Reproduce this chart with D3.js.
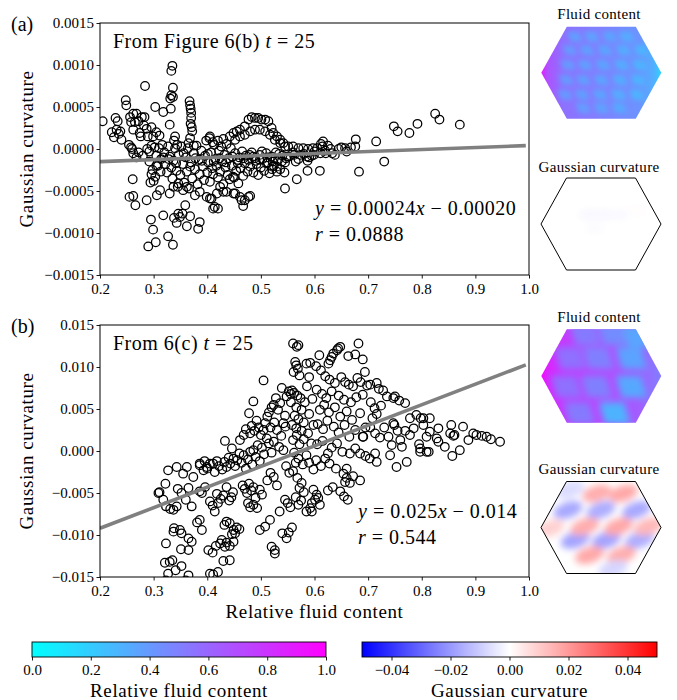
<!DOCTYPE html>
<html><head><meta charset="utf-8">
<script src="https://cdn.jsdelivr.net/npm/d3@7"></script>
<style>
body{margin:0;background:#fff}
text{font-family:"Liberation Serif","DejaVu Serif",serif;fill:#000}
</style>
</head><body>
<svg id="c" width="677" height="700"></svg>
<script>
// ---------------- DATA ----------------
const xTicks = [0.2,0.3,0.4,0.5,0.6,0.7,0.8,0.9,1.0];
const yTicksA = [-0.0015,-0.0010,-0.0005,0,0.0005,0.0010,0.0015];
const yTicksB = [-0.015,-0.010,-0.005,0,0.005,0.010,0.015];
const cbFluidTicks = [0,0.2,0.4,0.6,0.8,1.0];
const cbCurvTicks = [-0.04,-0.02,0,0.02,0.04];
const fitA = {slope:0.00024, intercept:-0.000198};
const fitB = {slope:0.0245, intercept:-0.0141};

const pointsA = [
[0.205,0.00033],[0.222,0.0002],[0.226,0.00014],[0.229,0.00037],[0.233,0.00033],[0.231,0.00023],[0.235,0.00018],[0.238,0.00021],[0.24,0.00011],
[0.248,0.00058],[0.249,0.00052],[0.256,0.00038],[0.262,0.00042],[0.268,0.00042],[0.258,0.00032],[0.265,0.00032],[0.272,0.00033],[0.262,0.00023],
[0.274,0.00019],[0.278,0.00038],[0.283,0.00038],[0.282,0.00028],[0.287,0.00024],[0.296,0.00026],[0.305,0.0002],[0.311,0.00016],[0.299,0.00015],
[0.289,0.00015],[0.276,0.00015],
[0.254,0.00005],[0.26,0.0],[0.262,-0.00005],[0.258,0.00002],[0.268,-0.0001],[0.272,-0.00004],[0.28,-0.00008],[0.288,0.0],[0.292,-0.00003],[0.296,0.00004],
[0.261,-0.00036],[0.255,-0.00057],[0.262,-0.00056],[0.266,-0.00067],[0.287,-0.00061],[0.292,-0.00015],[0.298,-0.00025],[0.296,-0.0003],[0.303,-0.00033],
[0.308,-0.0002],[0.306,-0.00055],[0.312,-0.00049],[0.313,-0.00027],[0.3,-0.00038],[0.294,-0.0004],
[0.295,-0.00084],[0.299,-0.00096],[0.318,-0.00079],[0.327,-0.00104],[0.336,-0.00114],[0.29,-0.00116],[0.304,-0.00111],[0.343,-0.00088],[0.346,-0.00077],
[0.349,-0.00081],[0.354,-0.00077],[0.359,-0.00067],[0.362,-0.00092],[0.368,-0.0008],[0.386,-0.00087],[0.383,-0.00095],[0.338,-0.00082],
[0.335,0.00099],[0.333,0.00093],[0.336,0.00073],[0.333,0.00064],[0.331,0.0006],[0.336,0.00062],[0.332,0.00048],[0.318,0.00044],[0.303,0.0005],
[0.284,0.00075],[0.33,0.00029],[0.34,0.00015],[0.338,0.0001],[0.344,0.00005],
[0.367,0.00057],[0.368,0.00052],[0.369,0.00048],[0.37,0.00043],[0.37,0.00037],[0.369,0.0003],[0.371,0.00026],[0.372,0.00021],[0.368,0.00013],[0.365,0.00007],[0.375,0.00004],
[0.302,0.00002],[0.305,-0.00008],[0.31,0.00001],[0.314,-0.00012],[0.316,0.00005],[0.32,-0.00004],[0.322,-0.00018],[0.325,-0.00028],[0.327,0.00003],
[0.33,-0.00009],[0.333,-0.00022],[0.335,-0.00035],[0.337,-0.00014],[0.34,0.00001],[0.343,-0.00026],[0.345,-0.00045],[0.347,-0.00007],[0.35,-0.00031],
[0.352,0.00003],[0.355,-0.00018],[0.357,-0.0004],[0.36,-0.0001],[0.362,-0.00027],[0.364,0.00001],[0.366,-0.00047],[0.37,-0.00016],[0.372,-0.00035],
[0.375,-0.00005],[0.377,-0.00024],[0.38,0.00004],[0.382,-0.00042],[0.384,-0.00013],[0.386,-0.0003],[0.389,-0.00002],[0.392,-0.00021],[0.394,-0.00037],
[0.396,-0.00008],[0.398,0.0001],[0.4,-0.00028],[0.402,-0.00016],[0.404,0.00013],[0.405,-0.00039],[0.407,-0.00004],[0.409,-0.00023],[0.411,-0.0003],
[0.413,0.00005],[0.415,-0.00012],[0.417,-0.0002],[0.42,-0.00034],[0.422,-0.00002],[0.424,-0.00027],[0.426,0.00003],[0.428,-0.00015],[0.43,-0.00042],
[0.432,-0.00007],[0.434,-0.00022],[0.436,0.00006],[0.438,-0.00031],[0.44,-0.00011],[0.442,-0.00036],[0.444,0.00001],[0.446,-0.0002],[0.448,-0.00033],
[0.45,-0.00034],[0.452,-0.00005],[0.454,-0.00026],[0.456,-0.00013],[0.458,-0.00041],[0.46,-0.0001],[0.462,-0.00023],[0.465,-0.00003],[0.467,-0.00032],
[0.47,-0.00017],[0.472,-0.00008],[0.475,-0.00027],[0.477,-0.00013],[0.48,-0.00021],[0.483,-0.00004],[0.486,-0.00028],[0.489,-0.00011],[0.492,-0.00018],
[0.495,-0.00031],[0.498,-0.00007],[0.5,-0.00022],[0.503,-0.00012],[0.506,-0.00026],[0.51,-0.00005],[0.513,-0.00016],[0.516,-0.00029],[0.52,-0.00009],
[0.524,-0.0002],[0.528,-0.00004],[0.532,-0.00013],[0.536,-0.00024],[0.54,-0.00008],[0.545,-0.00016],
[0.305,-0.0002],[0.318,-0.0001],[0.328,-0.00012],[0.342,-0.00017],[0.356,-0.00005],[0.368,-0.00021],[0.378,-0.00011],[0.39,-0.00014],[0.401,-0.00006],
[0.412,-0.00015],[0.423,-0.00011],[0.435,-0.00016],[0.447,-0.00009],[0.457,-0.00017],[0.468,-0.00011],[0.479,-0.00007],[0.49,-0.00014],[0.502,-0.00003],
[0.512,-0.0001],[0.522,-0.00015],[0.534,-0.00006],[0.547,-0.00011],
[0.33,-0.00053],[0.337,-0.00045],[0.346,-0.00041],[0.355,-0.00049],[0.362,-0.00045],[0.377,-0.00055],[0.386,-0.00051],[0.399,-0.00057],[0.408,-0.00059],
[0.418,-0.00053],[0.414,-0.00069],[0.42,-0.00071],[0.424,-0.00045],[0.436,-0.00051],[0.449,-0.00053],[0.461,-0.00057],[0.47,-0.00061],[0.48,-0.00056],
[0.467,-0.00068],[0.405,-0.00059],[0.411,-0.00071],[0.43,-0.00051],[0.452,-0.00053],[0.464,-0.00061],[0.477,-0.00057],
[0.545,-0.00047],[0.567,-0.00036],[0.587,-0.00026],[0.61,-0.00026],[0.544,-0.00028],[0.521,-0.00024],[0.53,-0.00027],
[0.442,0.00015],[0.449,0.00019],[0.455,0.00021],[0.461,0.00023],[0.47,0.00027],[0.477,0.00035],[0.483,0.00038],[0.489,0.00037],[0.495,0.00037],
[0.501,0.00035],[0.508,0.00035],[0.514,0.00033],[0.52,0.00025],[0.523,0.00019],[0.53,0.00015],[0.536,0.00011],[0.542,0.00007],[0.551,0.00003],
[0.56,0.00003],[0.57,0.00001],[0.579,0.00001],[0.588,0.0],[0.597,0.00001],
[0.452,0.00011],[0.461,0.00015],[0.47,0.00017],[0.48,0.00021],[0.489,0.00023],[0.498,0.00023],[0.508,0.00021],[0.517,0.00017],[0.526,0.00011],[0.536,0.00007],[0.545,0.00003],
[0.486,-0.00009],[0.498,-0.00013],[0.511,-0.00017],[0.521,-0.00021],[0.53,-0.00021],[0.539,-0.00015],[0.549,-0.00009],[0.562,-0.00007],[0.574,-0.00007],
[0.586,-0.00009],[0.599,-0.00007],[0.611,-0.00005],[0.621,-0.00005],
[0.405,0.00015],[0.41,0.00008],[0.42,0.0001],[0.43,0.00012],
[0.6,-0.00003],[0.605,0.00001],[0.612,0.00006],[0.615,0.00003],[0.62,-0.00002],[0.625,0.00004],[0.63,0.0],[0.633,-0.00005],[0.638,-0.00007],[0.645,0.0],
[0.65,0.00002],[0.657,0.00001],[0.66,-0.00003],[0.668,0.00002],[0.676,0.00003],[0.677,0.000115],[0.616,0.00009],[0.59,-0.0001],[0.595,-0.00008],
[0.587,-0.00014],[0.58,-0.00006],[0.57,-0.00012],[0.56,-0.00004],[0.565,-0.00015],[0.552,-0.00009],
[0.683,-0.00027],[0.715,0.00009],[0.73,-0.00015],[0.748,0.00027],[0.755,0.00021],[0.777,0.00019],[0.792,0.0003],[0.825,0.00042],[0.833,0.00035],[0.871,0.00029]
];

const pointsB = [
[0.309,-0.005],[0.311,-0.0049],[0.322,-0.0039],[0.327,-0.0023],[0.318,-0.0058],[0.323,-0.0066],[0.331,-0.0069],[0.337,-0.007],[0.343,-0.0066],
[0.323,-0.011],[0.321,-0.0133],[0.33,-0.0132],[0.335,-0.013],[0.327,-0.0146],[0.341,-0.0142],[0.337,-0.0096],[0.343,-0.0019],[0.352,-0.005],
[0.349,-0.0094],[0.352,-0.0098],[0.351,-0.0117],[0.352,-0.0137],[0.355,-0.0027],[0.362,-0.0019],[0.365,-0.0044],[0.371,-0.0066],[0.365,-0.0104],
[0.371,-0.0108],[0.365,-0.0118],[0.374,-0.0031],[0.386,-0.0015],[0.386,-0.0048],[0.39,-0.005],[0.396,-0.0043],[0.386,-0.0082],[0.39,-0.0094],
[0.393,-0.0023],[0.399,-0.0019],[0.381,-0.0085],[0.36,-0.0058],[0.345,-0.0045],[0.338,-0.0092],[0.323,-0.0154],[0.36,-0.0154],[0.365,-0.0148],
[0.405,-0.006],[0.41,-0.0065],[0.414,-0.0072],[0.42,-0.0062],[0.425,-0.0057],[0.418,-0.0051],[0.43,-0.0053],[0.402,-0.0118],[0.41,-0.0121],
[0.416,-0.0113],[0.424,-0.011],[0.427,-0.0106],[0.433,-0.0114],[0.436,-0.0109],[0.442,-0.0113],[0.449,-0.0108],[0.405,-0.0146],[0.411,-0.0147],
[0.42,-0.0144],[0.436,-0.0084],[0.442,-0.0086],[0.449,-0.0094],[0.452,-0.0098],[0.446,-0.0099],[0.455,-0.0091],[0.442,-0.013],[0.432,-0.0088],
[0.441,-0.0059],[0.448,-0.0049],[0.445,-0.0055],[0.436,-0.0043],[0.43,-0.0131],[0.46,-0.0093],
[0.386,-0.0017],[0.395,-0.0012],[0.4,-0.0021],[0.405,-0.0015],[0.411,-0.0015],[0.414,-0.0025],[0.418,-0.0012],[0.422,-0.0018],[0.428,-0.0022],
[0.432,-0.0013],[0.436,-0.0019],[0.44,-0.0008],[0.443,-0.0015],[0.449,-0.0009],[0.452,-0.0018],[0.456,-0.0011],[0.46,-0.0003],[0.464,-0.0014],
[0.468,-0.0005],[0.472,-0.0021],[0.476,-0.001],[0.48,-0.0001],[0.484,-0.0016],[0.486,0.0001],[0.49,-0.0007],[0.494,0.0007],[0.498,-0.0012],
[0.502,0.0004],[0.506,-0.0004],[0.511,0.0015],[0.515,0.0009],[0.52,-0.0002],[0.524,0.0011],[0.53,0.0025],[0.534,0.0005],[0.538,0.0018],[0.542,0.0001],
[0.433,0.0012],[0.446,0.0003],[0.461,0.0013],[0.468,0.0019],[0.472,0.0026],[0.48,0.0021],[0.483,0.003],[0.488,0.0024],[0.492,0.0036],[0.496,0.0028],
[0.5,0.0019],[0.505,0.0025],[0.508,0.0033],[0.512,0.0041],[0.478,0.0045],[0.486,0.0059],[0.505,0.0084],[0.515,0.0046],[0.52,0.0052],[0.524,0.0055],
[0.528,0.0063],[0.532,0.0049],[0.536,0.0057],[0.539,0.0075],[0.542,0.0033],[0.545,0.0042],[0.548,0.0065],[0.552,0.0071],[0.556,0.0068],[0.546,0.0029],
[0.525,0.0034],[0.518,0.0028],
[0.466,-0.0041],[0.47,-0.0045],[0.474,-0.005],[0.478,-0.0039],[0.482,-0.0047],[0.486,-0.0043],[0.49,-0.0056],[0.476,-0.0062],[0.48,-0.0067],
[0.486,-0.0064],[0.493,-0.0068],[0.498,-0.0046],[0.502,-0.0052],[0.498,-0.0094],[0.508,-0.009],[0.517,-0.0082],[0.52,-0.0114],[0.526,-0.0118],
[0.526,-0.0122],[0.512,-0.0035],[0.518,-0.0026],[0.524,-0.0031],[0.53,-0.0041],[0.535,-0.0072],[0.54,-0.0098],[0.545,-0.0058],[0.55,-0.0062],
[0.548,-0.0104],[0.552,-0.0097],[0.558,-0.0091],[0.555,-0.0067],[0.547,-0.0018],[0.553,-0.0026],
[0.56,0.0128],[0.567,0.0124],[0.564,0.0106],[0.566,0.0102],[0.569,0.0098],[0.561,0.0094],[0.572,0.009],[0.57,0.0126],[0.558,0.0072],[0.562,0.0069],
[0.568,0.0066],[0.574,0.0063],[0.556,0.0058],[0.566,0.0052],[0.576,0.0049],[0.563,0.0042],[0.57,0.0038],[0.58,0.0034],[0.558,0.0031],[0.566,0.0027],
[0.576,0.0024],[0.567,0.0019],[0.56,0.0013],[0.572,0.0008],[0.58,0.0014],[0.562,-0.0002],[0.57,-0.0009],[0.578,-0.0016],[0.565,-0.0014],[0.585,-0.0005],
[0.56,-0.0024],[0.568,-0.0032],[0.576,-0.0038],[0.572,-0.0044],[0.58,-0.0049],[0.565,-0.0055],[0.575,-0.0059],[0.57,-0.0064],[0.585,-0.0072],
[0.592,-0.0068],[0.595,-0.0062],[0.598,-0.0046],[0.604,-0.0052],[0.607,-0.0056],[0.601,-0.0058],[0.595,-0.0072],[0.61,-0.0064],[0.585,0.0104],
[0.59,0.0088],[0.586,0.0077],[0.592,0.0105],[0.582,0.0058],[0.59,0.0044],[0.596,0.0062],[0.598,0.0031],[0.588,0.0021],[0.594,0.0009],[0.59,-0.0014],[0.598,-0.0022],
[0.609,0.0114],[0.603,0.0101],[0.612,0.0096],[0.626,0.0104],[0.629,0.0108],[0.632,0.0112],[0.635,0.0116],[0.642,0.012],[0.648,0.0124],[0.644,0.0122],
[0.663,0.0113],[0.676,0.0115],[0.682,0.0128],[0.69,0.0109],[0.62,0.0089],[0.628,0.0085],[0.638,0.0081],[0.65,0.0088],[0.657,0.0082],[0.664,0.0079],
[0.672,0.0077],[0.68,0.0087],[0.686,0.0082],[0.694,0.0094],[0.698,0.0078],[0.604,0.0073],[0.614,0.0068],[0.622,0.0063],[0.632,0.0071],[0.645,0.0066],
[0.655,0.0061],[0.668,0.0058],[0.678,0.0064],[0.69,0.0067],[0.61,0.0049],[0.618,0.0055],[0.627,0.0046],[0.638,0.0052],[0.648,0.0041],[0.66,0.0047],
[0.67,0.0037],[0.685,0.0045],[0.606,0.0032],[0.616,0.0026],[0.624,0.0036],[0.636,0.0029],[0.645,0.0022],[0.656,0.0031],[0.665,0.0017],[0.676,0.0025],
[0.69,0.0017],[0.695,0.0028],[0.605,0.0008],[0.615,0.0012],[0.625,-0.0003],[0.632,0.0004],[0.642,0.0009],[0.652,-0.0001],[0.666,-0.0003],[0.676,0.0003],
[0.685,-0.0003],[0.695,-0.0006],[0.603,-0.0011],[0.612,-0.0018],[0.62,-0.0009],[0.628,-0.0015],[0.64,-0.0021],[0.654,-0.0027],[0.66,-0.0032],
[0.657,-0.0037],[0.672,-0.003],[0.685,-0.0035],[0.666,-0.0038],[0.648,-0.0048],[0.655,-0.0054],[0.625,-0.0047],[0.634,-0.0043],[0.662,-0.0058],[0.66,-0.0021],
[0.704,0.0079],[0.716,0.0081],[0.72,0.0074],[0.728,0.0072],[0.735,0.0065],[0.747,0.0063],[0.75,0.0065],[0.758,0.006],[0.769,0.0057],[0.705,0.0058],
[0.712,0.0051],[0.724,0.0054],[0.708,0.0039],[0.716,0.0044],[0.704,0.0028],[0.713,0.0021],[0.691,0.0017],[0.722,0.0016],[0.73,0.0028],[0.738,0.0017],
[0.747,0.0033],[0.749,0.0031],[0.755,0.0024],[0.763,0.0005],[0.76,0.0013],[0.744,0.0007],[0.713,-0.0003],[0.716,-0.0013],[0.703,-0.0009],[0.741,-0.0005],
[0.753,-0.0019],[0.772,-0.0013],[0.778,0.0039],[0.79,0.0043],[0.798,0.0039],[0.785,0.0027],[0.778,0.0019],[0.769,0.0024],[0.797,0.0003],[0.797,-0.0001],[0.795,0.0008],
[0.803,0.0039],[0.815,0.0039],[0.803,0.0031],[0.815,0.0023],[0.809,0.0017],[0.809,-0.0001],[0.813,-0.0001],[0.831,0.0027],[0.828,0.0015],[0.831,0.0011],
[0.843,0.0005],[0.855,0.0031],[0.853,0.0021],[0.859,0.0018],[0.861,0.0019],[0.877,0.0029],[0.871,0.0001],[0.857,-0.0006],[0.887,0.0013],[0.896,0.0021],
[0.902,0.0019],[0.912,0.0018],[0.921,0.0017],[0.929,0.0014],[0.946,0.0011]
];

// Hexagon thumbnails: base colour profile [offset, value] and blobs [u, v, value] in local [-1,1] coords
const fluidBaseA = [[0,0.92],[0.06,0.68],[0.18,0.56],[0.5,0.5],[0.82,0.42],[0.94,0.3],[1,0.15]];
const fluidBlobsA = [
[-0.44,-0.78,0.38],[-0.16,-0.78,0.37],[0.145,-0.78,0.36],[0.42,-0.78,0.33],
[-0.52,-0.49,0.4],[-0.24,-0.49,0.38],[0.06,-0.49,0.36],[0.37,-0.49,0.33],[0.67,-0.49,0.3],
[-0.55,-0.17,0.4],[-0.27,-0.17,0.38],[0.03,-0.17,0.36],[0.34,-0.17,0.33],[0.645,-0.17,0.3],
[-0.58,0.16,0.4],[-0.3,0.16,0.38],[0.0,0.16,0.36],[0.31,0.16,0.33],[0.62,0.16,0.3],
[-0.6,0.48,0.4],[-0.32,0.48,0.38],[-0.02,0.48,0.36],[0.29,0.48,0.33],[0.6,0.48,0.3],
[-0.3,0.77,0.39],[0.0,0.77,0.37],[0.3,0.77,0.34]
];
const fluidBaseB = [[0,0.98],[0.06,0.86],[0.2,0.77],[0.5,0.72],[0.8,0.64],[1,0.5]];
const fluidBlobsB = [
[-0.27,-0.9,0.52],[0.2,-0.9,0.45],[0.62,-0.85,0.35],
[-0.52,-0.38,0.56],[-0.05,-0.38,0.5],[0.5,-0.38,0.36],
[-0.58,0.23,0.56],[-0.08,0.23,0.5],[0.5,0.23,0.34],
[-0.36,0.8,0.52],[0.22,0.8,0.3]
];
const curvBlobsA = [[-0.2,-0.2,-0.0015],[0.05,-0.2,-0.0015],[0.3,-0.2,-0.0012],[-0.1,0.1,-0.0008],[0.6,-0.3,0.0006]];
const curvBlobsB = [
[-0.55,-0.38,-0.017],[0.0,-0.38,-0.016],[0.59,-0.38,-0.017],
[-0.43,0.27,-0.018],[0.09,0.27,-0.018],[0.64,0.27,-0.016],
[-0.07,-0.74,0.016],[0.37,-0.74,0.017],
[-0.27,-0.02,0.016],[0.29,-0.02,0.017],[0.79,-0.02,0.014],[-0.85,0.02,0.009],
[-0.19,0.6,0.017],[0.34,0.6,0.016],[-0.52,-0.82,-0.007],[0.2,0.9,-0.008]
];

// ---------------- DRAW ----------------
const svg = d3.select("#c");
const defs = svg.append("defs");
const minus = s => s.replace(/-/g, "\u2212");
const cool = v => d3.rgb(255*v, 255*(1-v), 255);
const bwr = d3.scaleLinear().domain([-0.05,0,0.05]).range(["#0000ff","#ffffff","#ff0000"]).clamp(true);

const L = 100, R = 529;
const x = d3.scaleLinear().domain([0.2,1.0]).range([L,R]);

function panel(cfg){
  const y = d3.scaleLinear().domain(cfg.domain).range([cfg.bottom, cfg.top]);
  const g = svg.append("g");
  const clipId = "clip"+cfg.id;
  defs.append("clipPath").attr("id",clipId).append("rect")
    .attr("x",L).attr("y",cfg.top).attr("width",R-L).attr("height",cfg.bottom-cfg.top);
  const pg = g.append("g").attr("clip-path",`url(#${clipId})`);
  pg.selectAll("circle").data(cfg.points).join("circle")
    .attr("cx",d=>x(d[0])).attr("cy",d=>y(d[1])).attr("r",4.3)
    .attr("fill","none").attr("stroke","#000").attr("stroke-width",1.25);
  const lx = [0.2,0.994];
  pg.append("line")
    .attr("x1",x(lx[0])).attr("y1",y(cfg.fit.slope*lx[0]+cfg.fit.intercept))
    .attr("x2",x(lx[1])).attr("y2",y(cfg.fit.slope*lx[1]+cfg.fit.intercept))
    .attr("stroke","#808080").attr("stroke-width",3.6);
  g.append("rect").attr("x",L).attr("y",cfg.top).attr("width",R-L).attr("height",cfg.bottom-cfg.top)
    .attr("fill","none").attr("stroke","#000").attr("stroke-width",1);
  const xa = g.append("g").attr("transform",`translate(0,${cfg.bottom})`)
    .call(d3.axisBottom(x).tickValues(xTicks).tickFormat(d3.format(".1f")).tickSizeOuter(0).tickSize(3.5));
  const ya = g.append("g").attr("transform",`translate(${L},0)`)
    .call(d3.axisLeft(y).tickValues(cfg.ticks).tickFormat(d=>minus(d3.format(cfg.fmt)(d))).tickSizeOuter(0).tickSize(3.5));
  [xa,ya].forEach(a=>{
    a.attr("font-family",null).attr("font-size",null);
    a.select(".domain").remove();
    a.selectAll("line").attr("stroke","#000").attr("stroke-width",0.9);
    a.selectAll("text").style("font-size","15px").style("font-family","'Liberation Serif', serif").attr("fill","#000");
  });
  xa.selectAll("text").attr("dy",null).attr("y",19);
  ya.selectAll("text").attr("x",-6).attr("dy","0.33em");
  g.append("text").attr("transform",`translate(33,${(cfg.top+cfg.bottom)/2}) rotate(-90)`)
    .attr("text-anchor","middle").attr("font-size",19).attr("letter-spacing",0.6).text("Gaussian curvature");
  g.append("text").attr("x",11).attr("y",cfg.top+8).attr("font-size",20).text(cfg.letter);
  const t = g.append("text").attr("x",113).attr("y",cfg.top+25).attr("font-size",20).attr("letter-spacing",0.5);
  t.append("tspan").text(cfg.title+" ");
  t.append("tspan").attr("font-style","italic").text("t");
  t.append("tspan").text(" = 25");
  const e1 = g.append("text").attr("x",cfg.eqX).attr("y",cfg.top+cfg.eqDy).attr("font-size",20).attr("letter-spacing",0.5);
  e1.append("tspan").attr("font-style","italic").text("y");
  e1.append("tspan").text(" = "+cfg.eqA);
  e1.append("tspan").attr("font-style","italic").text("x");
  e1.append("tspan").text(" \u2212 "+cfg.eqB);
  const e2 = g.append("text").attr("x",cfg.eqX).attr("y",cfg.top+cfg.eqDy+26).attr("font-size",20).attr("letter-spacing",0.5);
  e2.append("tspan").attr("font-style","italic").text("r");
  e2.append("tspan").text(" = "+cfg.r);
}

panel({id:"A",letter:"(a)",top:23,bottom:275,domain:[-0.0015,0.0015],ticks:yTicksA,fmt:".4f",points:pointsA,fit:fitA,
  title:"From Figure 6(b)",eqX:315,eqDy:192,eqA:"0.00024",eqB:"0.00020",r:"0.0888"});
panel({id:"B",letter:"(b)",top:325,bottom:577,domain:[-0.015,0.015],ticks:yTicksB,fmt:".3f",points:pointsB,fit:fitB,
  title:"From 6(c)",eqX:358,eqDy:193,eqA:"0.025",eqB:"0.014",r:"0.544"});

svg.append("text").attr("x",x(0.6)).attr("y",618).attr("text-anchor","middle").attr("font-size",19).attr("letter-spacing",0.6)
  .text("Relative fluid content");

// ---------------- HEXAGONS ----------------
[["blur3",2.6],["blur4",3.6],["blur5",4.2]].forEach(([id,sd])=>{
  defs.append("filter").attr("id",id).attr("x","-50%").attr("y","-50%").attr("width","200%").attr("height","200%")
    .append("feGaussianBlur").attr("stdDeviation",sd);
});

function hexPts(cx,cy,hw,tw,hh){
  return [[cx-hw,cy],[cx-tw,cy-hh],[cx+tw,cy-hh],[cx+hw,cy],[cx+tw,cy+hh],[cx-tw,cy+hh]];
}
function hex(cfg){
  const pts = hexPts(cfg.cx,cfg.cy,60,34.5,cfg.hh);
  const id = "hex"+cfg.id;
  defs.append("clipPath").attr("id",id).append("polygon").attr("points",pts.map(p=>p.join(",")).join(" "));
  const u = d3.scaleLinear().domain([-1,1]).range([cfg.cx-60,cfg.cx+60]);
  const v = d3.scaleLinear().domain([-1,1]).range([cfg.cy-cfg.hh,cfg.cy+cfg.hh]);
  const g = svg.append("g");
  const inner = g.append("g").attr("clip-path",`url(#${id})`);
  if(cfg.base){
    const gid = "grad"+cfg.id;
    const gr = defs.append("linearGradient").attr("id",gid).attr("x1","0").attr("x2","1").attr("y1","0").attr("y2","0");
    cfg.base.forEach(s=>gr.append("stop").attr("offset",s[0]).attr("stop-color",cool(s[1])));
    inner.append("rect").attr("x",cfg.cx-61).attr("y",cfg.cy-cfg.hh-1).attr("width",122).attr("height",2*cfg.hh+2).attr("fill",`url(#${gid})`);
    const bg = inner.append("g").attr("filter",`url(#${cfg.blur})`);
    bg.selectAll("path").data(cfg.blobs).join("path")
      .attr("d",d=>{const cx=u(d[0]),cy=v(d[1]),w=cfg.bw,h=cfg.bh,s=cfg.sh;
        return `M${cx-w+s},${cy-h}L${cx+w*0.35+s},${cy-h}L${cx+w-s},${cy+h}L${cx-w*0.35-s},${cy+h}Z`;})
      .attr("fill",d=>cool(d[2]));
  } else {
    inner.append("rect").attr("x",cfg.cx-61).attr("y",cfg.cy-cfg.hh-1).attr("width",122).attr("height",2*cfg.hh+2).attr("fill","#ffffff");
    const bg = inner.append("g").attr("filter",`url(#${cfg.blur})`);
    bg.selectAll("ellipse").data(cfg.blobs).join("ellipse")
      .attr("cx",d=>u(d[0])).attr("cy",d=>v(d[1])).attr("rx",cfg.bw).attr("ry",cfg.bh)
      .attr("transform",d=>`rotate(${cfg.rot},${u(d[0])},${v(d[1])})`)
      .attr("fill",d=>bwr(d[2]));
    g.append("polygon").attr("points",pts.map(p=>p.join(",")).join(" "))
      .attr("fill","none").attr("stroke","#000").attr("stroke-width",1);
  }
  g.append("text").attr("x",599).attr("y",cfg.titleY).attr("text-anchor","middle").attr("font-size",15).attr("letter-spacing",0.3).text(cfg.title);
}
hex({id:"fa",cx:601.3,cy:72.7,hh:46,base:fluidBaseA,blobs:fluidBlobsA,bw:9,bh:5,sh:1,blur:"blur3",title:"Fluid content",titleY:19});
hex({id:"ca",cx:601,cy:224,hh:46,blobs:curvBlobsA,bw:10,bh:5,rot:0,blur:"blur4",title:"Gaussian curvature",titleY:172});
hex({id:"fb",cx:601.3,cy:376,hh:46.7,base:fluidBaseB,blobs:fluidBlobsB,bw:19,bh:11,sh:3,blur:"blur4",title:"Fluid content",titleY:322});
hex({id:"cb",cx:601,cy:527.5,hh:46,blobs:curvBlobsB,bw:15,bh:8,rot:-18,blur:"blur4",title:"Gaussian curvature",titleY:474});

// ---------------- COLORBARS ----------------
function colorbar(cfg){
  const s = d3.scaleLinear().domain(cfg.domain).range([cfg.x0,cfg.x1]);
  const gid = "cb"+cfg.id;
  const gr = defs.append("linearGradient").attr("id",gid);
  d3.range(0,1.0001,0.05).forEach(t=>gr.append("stop").attr("offset",t).attr("stop-color",cfg.color(cfg.domain[0]+t*(cfg.domain[1]-cfg.domain[0]))));
  const g = svg.append("g");
  g.append("rect").attr("x",cfg.x0).attr("y",cfg.y).attr("width",cfg.x1-cfg.x0).attr("height",cfg.h)
    .attr("fill",`url(#${gid})`).attr("stroke","#000").attr("stroke-width",0.9);
  const a = g.append("g").attr("transform",`translate(0,${cfg.y+cfg.h})`)
    .call(d3.axisBottom(s).tickValues(cfg.ticks).tickFormat(d=>minus(d3.format(cfg.fmt)(d))).tickSize(3.5).tickSizeOuter(0));
  a.attr("font-family",null).attr("font-size",null);
  a.select(".domain").remove();
  a.selectAll("line").attr("stroke","#000").attr("stroke-width",0.9);
  a.selectAll("text").style("font-size","15px").style("font-family","'Liberation Serif', serif").attr("fill","#000").attr("dy",null).attr("y",18);
  g.append("text").attr("x",(cfg.x0+cfg.x1)/2).attr("y",cfg.y+cfg.h+40).attr("text-anchor","middle")
    .attr("font-size",19).attr("letter-spacing",0.6).text(cfg.label);
}
colorbar({id:"f",domain:[0,1],x0:32,x1:326,y:642,h:15,color:v=>cool(v),ticks:cbFluidTicks,fmt:".1f",label:"Relative fluid content"});
colorbar({id:"c",domain:[-0.05,0.05],x0:362,x1:657,y:642,h:15,color:v=>bwr(v),ticks:cbCurvTicks,fmt:".2f",label:"Gaussian curvature"});
</script>
</body></html>
